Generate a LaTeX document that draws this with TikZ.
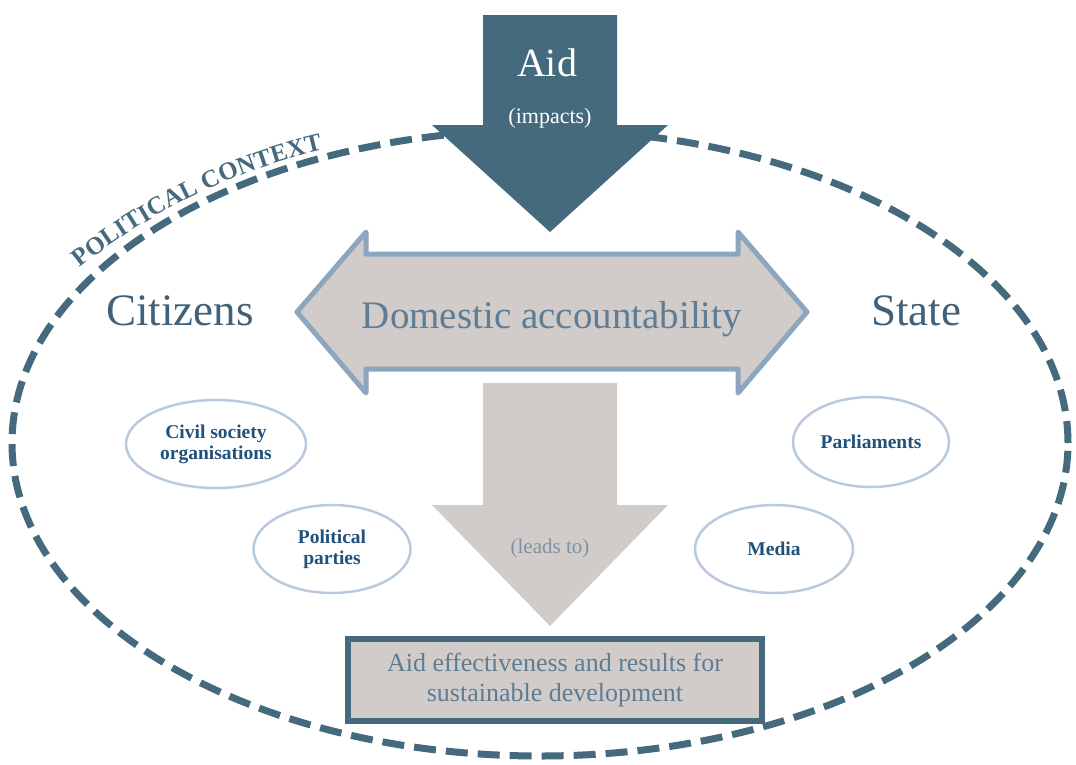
\documentclass[tikz,border=0pt]{standalone}
\usepackage{fontspec}
\setmainfont{Liberation Serif}
\usepackage{tikz}
\usetikzlibrary{shapes.geometric,decorations.text}

\definecolor{aidblue}{RGB}{70,106,125}
\definecolor{sideblue}{RGB}{64,97,121}
\definecolor{boxgrey}{RGB}{209,204,201}
\definecolor{edgeblue}{RGB}{141,166,191}
\definecolor{softblue}{RGB}{186,202,222}
\definecolor{greytext}{RGB}{94,124,148}
\definecolor{leadgrey}{RGB}{127,146,163}
\definecolor{actorblue}{RGB}{33,80,122}

\begin{document}
\begin{tikzpicture}[x=1pt, y=-1pt,
		actor/.style={ellipse, draw=softblue, line width=2.5pt, fill=white, align=center,
			text=actorblue, font=\fontsize{19.5}{21}\selectfont\bfseries},
		side/.style={anchor=base, text=sideblue, font=\fontsize{45}{45}\selectfont}]
		\useasboundingbox (0,0) rectangle (1076,764);
		
		\node[ellipse, draw=aidblue, line width=7pt, dash pattern=on 22pt off 10pt,
			minimum width=1056, minimum height=626] (context) at (540,443) {};
		\path[decorate, decoration={text along path, text align=fit to path,
			text={|\color{aidblue}\bfseries\fontsize{25}{25}\selectfont|POLITICAL CONTEXT}}]
			(80,268) .. controls (146,215) and (229,172) .. (323,150);
		
		\fill[aidblue] (483,15) -- (617,15) -- (617,125) -- (668,125) -- (550,232)
			-- (432,125) -- (483,125) -- cycle;
		\node[anchor=base, text=white, font=\fontsize{40}{40}\selectfont] (aid) at (547,76) {Aid};
		\node[anchor=base, text=white, font=\fontsize{22}{22}\selectfont] (impacts) at (550,123) {(impacts)};
		
		\draw[fill=boxgrey, draw=edgeblue, line width=5pt, line join=round]
			(297,312) -- (366,232) -- (366,254) -- (738,254) -- (738,232) -- (807,312)
			-- (738,393) -- (738,369) -- (366,369) -- (366,393) -- cycle;
		\node[anchor=base, text=greytext, font=\fontsize{39}{39}\selectfont] (account) at (552,328) {Domestic accountability};
		
		\node[side] (citizens) at (180,325) {Citizens};
		\node[side] (state) at (916,325) {State};
		
		\fill[boxgrey] (483,383) -- (617,383) -- (617,505) -- (668,505) -- (550,626)
			-- (432,505) -- (483,505) -- cycle;
		\node[anchor=base, text=leadgrey, font=\fontsize{21}{21}\selectfont] (leads) at (550,553) {(leads to)};
		
		\node[draw=aidblue, line width=6pt, fill=boxgrey, minimum width=414, minimum height=82,
			align=center, text=greytext, font=\fontsize{26}{30}\selectfont] (result) at (555,680)
			{Aid effectiveness and results for\\sustainable development};
		
		\node[actor, minimum width=180, minimum height=88] (civil) at (216,444) {Civil society\\organisations};
		\node[actor, minimum width=157, minimum height=88] (parties) at (332,549) {Political\\parties};
		\node[actor, minimum width=156, minimum height=90] (parl) at (871,442) {Parliaments};
		\node[actor, minimum width=158, minimum height=88] (media) at (774,549) {Media};
\end{tikzpicture}
\end{document}
